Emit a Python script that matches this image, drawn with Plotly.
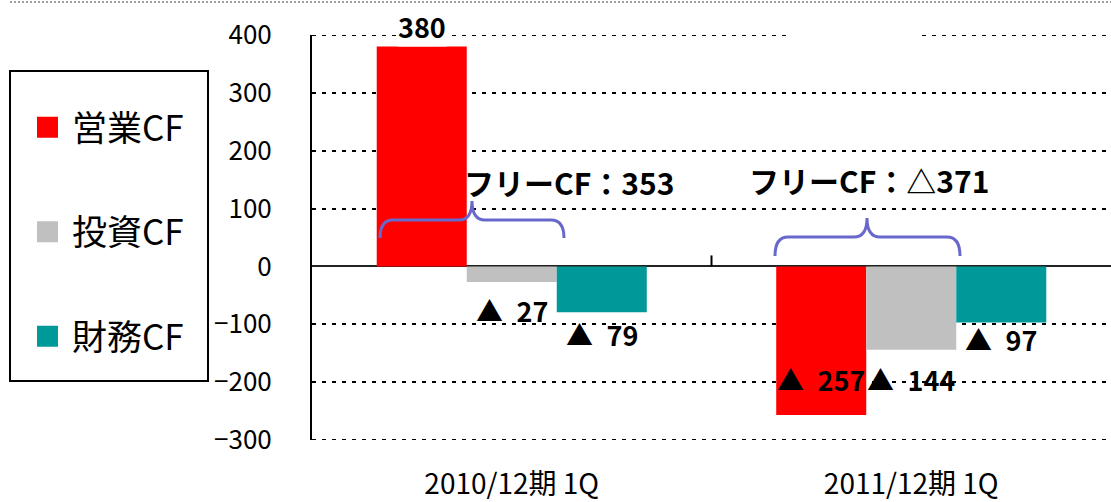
import plotly.graph_objects as go

# ---- data ----
categories = ["2010/12期 1Q", "2011/12期 1Q"]
series_names = ["営業CF", "投資CF", "財務CF"]
series_colors = ["#FF0000", "#C0C0C0", "#009999"]
operating_cf = [380, -257]
investing_cf = [-27, -144]
financing_cf = [-79, -97]
free_cf = [353, -371]
y_ticks = [-300, -200, -100, 0, 100, 200, 300, 400]

series_values = [operating_cf, investing_cf, financing_cf]
# label vertical offsets (px) from bar end, per series per category
label_yshift = [[20, 36], [-28, -30], [-22, -17]]

# ---- layout geometry ----
W, H = 1111, 502
ML, MR, MT, MB = 312, 0, 35, 62
PW, PH = W - ML - MR, H - MT - MB
BARGAP = 0.324
bar_px = (PW / len(categories)) * (1 - BARGAP) / len(series_names)
GRID_DASH = "4px,6px"


def px(x):
    return (x - ML) / PW


def py(y):
    return (MT + PH - y) / PH


FONT = "Noto Sans CJK JP"
fig = go.Figure()

for name, vals, col in zip(series_names, series_values, series_colors):
    fig.add_trace(go.Bar(x=categories, y=vals, name=name, marker_color=col,
                         marker_line_width=0, showlegend=False))
    # legend proxy with a larger square symbol
    fig.add_trace(go.Scatter(x=[None], y=[None], mode="markers", name=name,
                             legendgroup=name,
                             marker=dict(symbol="square", size=16, color=col,
                                         line=dict(color=col, width=5))))

annotations = []
for si, vals in enumerate(series_values):
    for ci, v in enumerate(vals):
        txt = str(v) if v >= 0 else f"▲\u2002{abs(v)}"
        annotations.append(dict(
            x=categories[ci], y=v, xref="x", yref="y", text=txt,
            showarrow=False, xshift=(si - 1) * bar_px,
            yshift=label_yshift[si][ci], borderpad=0,
            bgcolor="white" if v >= 0 else None,
            font=dict(family=FONT, size=27, color="black", weight="bold")))

free_xshift = [57, -42]
free_ypix = [182, 180]
for ci, f in enumerate(free_cf):
    txt = f"フリーCF：{f}" if f >= 0 else f"フリーCF：△{abs(f)}"
    annotations.append(dict(
        x=categories[ci], xref="x", y=py(free_ypix[ci]), yref="paper",
        text=txt, showarrow=False, xshift=free_xshift[ci],
        font=dict(family=FONT, size=30, color="black", weight="bold")))


def brace(xl, xr, xm, yb, yh, ytip, r=13):
    pts = [
        ("M", [(xl, yb)]),
        ("Q", [(xl, yh), (xl + r, yh)]),
        ("L", [(xm - r, yh)]),
        ("Q", [(xm, yh), (xm, ytip)]),
        ("Q", [(xm, yh), (xm + r, yh)]),
        ("L", [(xr - r, yh)]),
        ("Q", [(xr, yh), (xr, yb)]),
    ]
    s = ""
    for cmd, ps in pts:
        s += cmd + " " + " ".join(f"{px(a):.5f},{py(b):.5f}" for a, b in ps) + " "
    return s.strip()


shapes = []
# gridlines at the range edges (plotly omits them)
for yv in (min(y_ticks), max(y_ticks)):
    shapes.append(dict(type="line", xref="paper", yref="y", x0=0, x1=1,
                       y0=yv, y1=yv, layer="below",
                       line=dict(color="black", width=2, dash=GRID_DASH)))
shapes += [
    # chart-area top border (dotted)
    dict(type="line", xref="paper", yref="paper", x0=px(10), x1=px(1111),
         y0=py(2), y1=py(2), line=dict(color="#808080", width=1.5, dash="2px,2px")),
    # legend box
    dict(type="rect", xref="paper", yref="paper", x0=px(10), x1=px(208),
         y0=py(381), y1=py(71), line=dict(color="black", width=2)),
    # category separator tick on the zero line
    dict(type="line", xref="paper", yref="y", x0=0.5, x1=0.5, y0=0, y1=19,
         line=dict(color="black", width=2)),
    # white patch over 400 gridline
    dict(type="rect", xref="paper", yref="paper", x0=px(792), x1=px(919),
         y0=py(38), y1=py(32), fillcolor="white", line=dict(width=0), layer="above"),
    dict(type="path", xref="paper", yref="paper",
         path=brace(380, 564, 472, 238, 220, 201),
         line=dict(color="#6868CC", width=3)),
    dict(type="path", xref="paper", yref="paper",
         path=brace(775, 960, 867, 256, 237, 218),
         line=dict(color="#6868CC", width=3)),
]

fig.update_layout(
    width=W, height=H,
    margin=dict(l=ML, r=MR, t=MT, b=MB, pad=0),
    paper_bgcolor="white", plot_bgcolor="white",
    barmode="group", bargap=BARGAP, bargroupgap=0,
    font=dict(family=FONT, color="black"),
    showlegend=True,
    legend=dict(x=px(23), xanchor="left", y=py(98), yanchor="top",
                bgcolor="rgba(0,0,0,0)", borderwidth=0,
                font=dict(family=FONT, size=35, color="black"),
                itemwidth=39, tracegroupgap=56),
    annotations=annotations,
    shapes=shapes,
    xaxis=dict(showline=False, showgrid=False, ticks="", zeroline=False,
               automargin=False,
               tickfont=dict(family=FONT, size=28, color="black"),
               ticklabelstandoff=25),
    yaxis=dict(range=[-300, 400], tickvals=y_ticks, showline=True,
               automargin=False,
               linecolor="black", linewidth=2, ticks="",
               showgrid=True, gridcolor="black", gridwidth=2, griddash=GRID_DASH,
               zeroline=True, zerolinecolor="#222222", zerolinewidth=2,
               tickfont=dict(family=FONT, size=26, color="black"),
               ticklabelstandoff=33),
)

fig.write_html("out.html", config={"displayModeBar": False},
               post_script="document.body.style.margin='0';")
